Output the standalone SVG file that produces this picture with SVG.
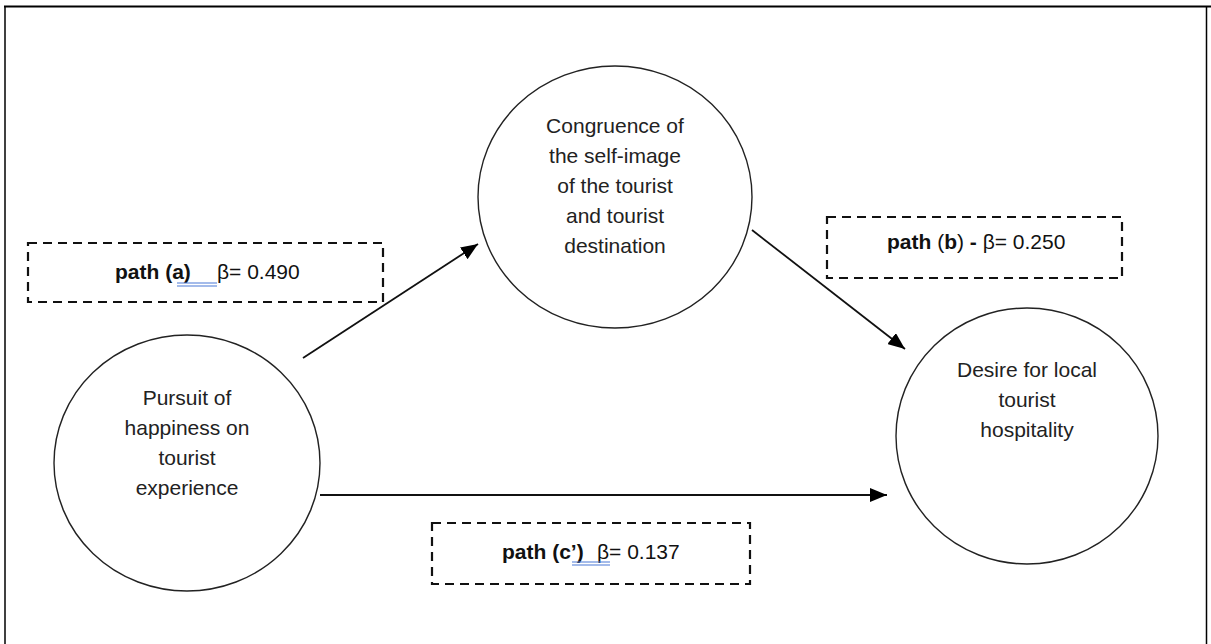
<svg xmlns="http://www.w3.org/2000/svg" width="1211" height="644" viewBox="0 0 1211 644">
<style>
.node{fill:#fff;stroke:#222;stroke-width:1.4}
.lbl{font-family:"Liberation Sans",Arial,sans-serif;font-size:21px;fill:#222;text-anchor:middle}
.box{fill:none;stroke:#111;stroke-width:2.2;stroke-dasharray:9 6}
.bt{font-family:"Liberation Sans",Arial,sans-serif;font-size:21px;fill:#111}
.b{font-weight:bold}
.conn{stroke:#111;stroke-width:1.8;fill:none}
.ul{stroke:#4a78d6;stroke-width:1.2}
</style>
<defs>
<marker id="ah" markerUnits="userSpaceOnUse" markerWidth="18" markerHeight="14" refX="17" refY="7" orient="auto">
<path d="M0,0 L17,7 L0,14 z" fill="#000"/>
</marker>
</defs>
<g id="frame">
<line x1="4" y1="6.5" x2="1211" y2="6.5" stroke="#000" stroke-width="2"/>
<line x1="5" y1="6" x2="5" y2="644" stroke="#000" stroke-width="1.5"/>
<line x1="1206.5" y1="6" x2="1206.5" y2="644" stroke="#000" stroke-width="1.5"/>
</g>
<g id="connectors">
<line class="conn" x1="303" y1="358" x2="478" y2="244" marker-end="url(#ah)"/>
<line class="conn" x1="752" y1="230" x2="905" y2="349" marker-end="url(#ah)"/>
<line class="conn" x1="320" y1="495" x2="887" y2="495" marker-end="url(#ah)"/>
</g>
<g id="node-congruence">
<ellipse class="node" cx="615" cy="197" rx="137" ry="131"/>
<text class="lbl" x="615" y="133">Congruence of</text>
<text class="lbl" x="615" y="163">the self-image</text>
<text class="lbl" x="615" y="193">of the tourist</text>
<text class="lbl" x="615" y="223">and tourist</text>
<text class="lbl" x="615" y="253">destination</text>
</g>
<g id="node-pursuit">
<ellipse class="node" cx="187" cy="463" rx="133" ry="128"/>
<text class="lbl" x="187" y="405">Pursuit of</text>
<text class="lbl" x="187" y="435">happiness on</text>
<text class="lbl" x="187" y="465">tourist</text>
<text class="lbl" x="187" y="495">experience</text>
</g>
<g id="node-desire">
<ellipse class="node" cx="1027" cy="436" rx="131" ry="128"/>
<text class="lbl" x="1027" y="377">Desire for local</text>
<text class="lbl" x="1027" y="407">tourist</text>
<text class="lbl" x="1027" y="437">hospitality</text>
</g>
<g id="label-a">
<rect class="box" x="28" y="243" width="355" height="59"/>
<text class="bt" x="115" y="279"><tspan class="b">path (a)</tspan></text>
<text class="bt" x="217" y="279">β= 0.490</text>
<line class="ul" x1="177" y1="283" x2="217" y2="283"/>
<line class="ul" x1="177" y1="286" x2="217" y2="286"/>
</g>
<g id="label-b">
<rect class="box" x="827" y="217" width="295" height="61"/>
<text class="bt" x="887" y="249"><tspan class="b">path </tspan>(<tspan class="b">b</tspan>)<tspan class="b"> - </tspan>β= 0.250</text>
</g>
<g id="label-c">
<rect class="box" x="432" y="523" width="318" height="61"/>
<text class="bt" x="502" y="559"><tspan class="b">path (c’)</tspan></text>
<text class="bt" x="597" y="559">β= 0.137</text>
<line class="ul" x1="572" y1="562" x2="610" y2="562"/>
<line class="ul" x1="572" y1="565" x2="610" y2="565"/>
</g>
</svg>
